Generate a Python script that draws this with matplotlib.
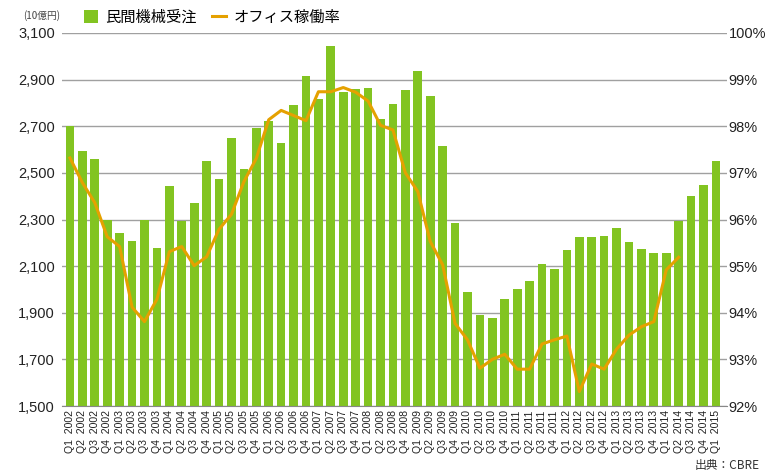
import matplotlib.pyplot as plt
from matplotlib.ticker import FuncFormatter
import numpy as np

plt.rcParams['font.family'] = ['Liberation Sans', 'Noto Sans CJK JP', 'DejaVu Sans']

# quarters Q1 2002 .. Q1 2015
quarters = []
for yr in range(2002, 2016):
    for q in range(1, 5):
        quarters.append("Q%d  %d" % (q, yr))
quarters = quarters[:53]

# 民間機械受注 (10億円)
orders = [2700, 2593, 2559, 2300, 2242, 2208, 2300, 2177, 2443, 2293, 2370, 2551,
          2473, 2649, 2516, 2692, 2722, 2628, 2791, 2915, 2816, 3044, 2846, 2859,
          2864, 2731, 2795, 2855, 2937, 2829, 2615, 2285, 1989, 1890, 1877, 1959,
          2002, 2036, 2109, 2087, 2169, 2225, 2225, 2229, 2263, 2203, 2173, 2156,
          2156, 2293, 2400, 2448, 2551]

# オフィス稼働率 (%), Q1 2002 .. Q2 2014
occupancy = [97.32, 96.79, 96.36, 95.63, 95.42, 94.12, 93.81, 94.29, 95.31, 95.42,
             95.01, 95.20, 95.79, 96.11, 96.81, 97.31, 98.14, 98.34, 98.23, 98.12,
             98.74, 98.74, 98.83, 98.73, 98.54, 98.02, 97.92, 97.00, 96.60, 95.53,
             95.03, 93.77, 93.42, 92.81, 93.00, 93.11, 92.79, 92.79, 93.33, 93.42,
             93.50, 92.31, 92.90, 92.79, 93.22, 93.52, 93.70, 93.81, 94.92, 95.19]

green = '#82c421'
orange = '#e5a100'

fig = plt.figure(figsize=(7.66, 4.76), dpi=100)
ax = fig.add_axes([62 / 766, 1 - 406 / 476, 665 / 766, 373 / 476])
ax2 = ax.twinx()

x = np.arange(len(orders))
ax.bar(x, orders, width=0.7, color=green, zorder=2, label='民間機械受注')
ax2.plot(np.arange(len(occupancy)), occupancy, color=orange, lw=2.2, zorder=3,
         label='オフィス稼働率')

ax.set_ylim(1500, 3100)
ax.set_yticks(range(1500, 3101, 200))
ax.yaxis.set_major_formatter(FuncFormatter(lambda v, p: '{:,.0f}'.format(v)))
ax2.set_ylim(92, 100)
ax2.set_yticks(range(92, 101))
ax2.yaxis.set_major_formatter(FuncFormatter(lambda v, p: '%d%%' % v))
ax.set_xlim(-0.64, 52.89)

ax.set_xticks(x)
ax.set_xticklabels(quarters, rotation=90, fontsize=7.6, color='#222222')
ax.grid(axis='y', color='#a0a0a0', lw=1, zorder=0)
ax.set_axisbelow(True)

for a in (ax, ax2):
    for s in a.spines.values():
        s.set_visible(False)
ax.spines['bottom'].set_visible(True)
ax.spines['bottom'].set_color('#888888')
ax.tick_params(axis='y', length=0, labelsize=10.5, pad=5, labelcolor='#222222')
ax.tick_params(axis='x', length=0, pad=3)
ax2.tick_params(axis='y', length=0, labelsize=10.5, pad=1, labelcolor='#222222')

jp = ['Noto Sans CJK JP', 'DejaVu Sans']
fig.text(23 / 766, 1 - 16 / 476, '(10億円)', fontsize=7, family=jp, va='center',
         color='#444444')

# legend
h1, l1 = ax.get_legend_handles_labels()
h2, l2 = ax2.get_legend_handles_labels()
leg = fig.legend(h1 + h2, l1 + l2, loc='center left', bbox_to_anchor=(70 / 766, 1 - 17 / 476),
                 ncol=2, frameon=False, prop={'family': jp, 'size': 11},
                 handlelength=0.9, handleheight=0.9, columnspacing=1.0, handletextpad=0.5)

fig.text(760 / 766, 1 - 465 / 476, '出典：CBRE', fontsize=8.5, family=jp, ha='right',
         va='center', color='#333333')

fig.savefig('out.png', dpi=100)
